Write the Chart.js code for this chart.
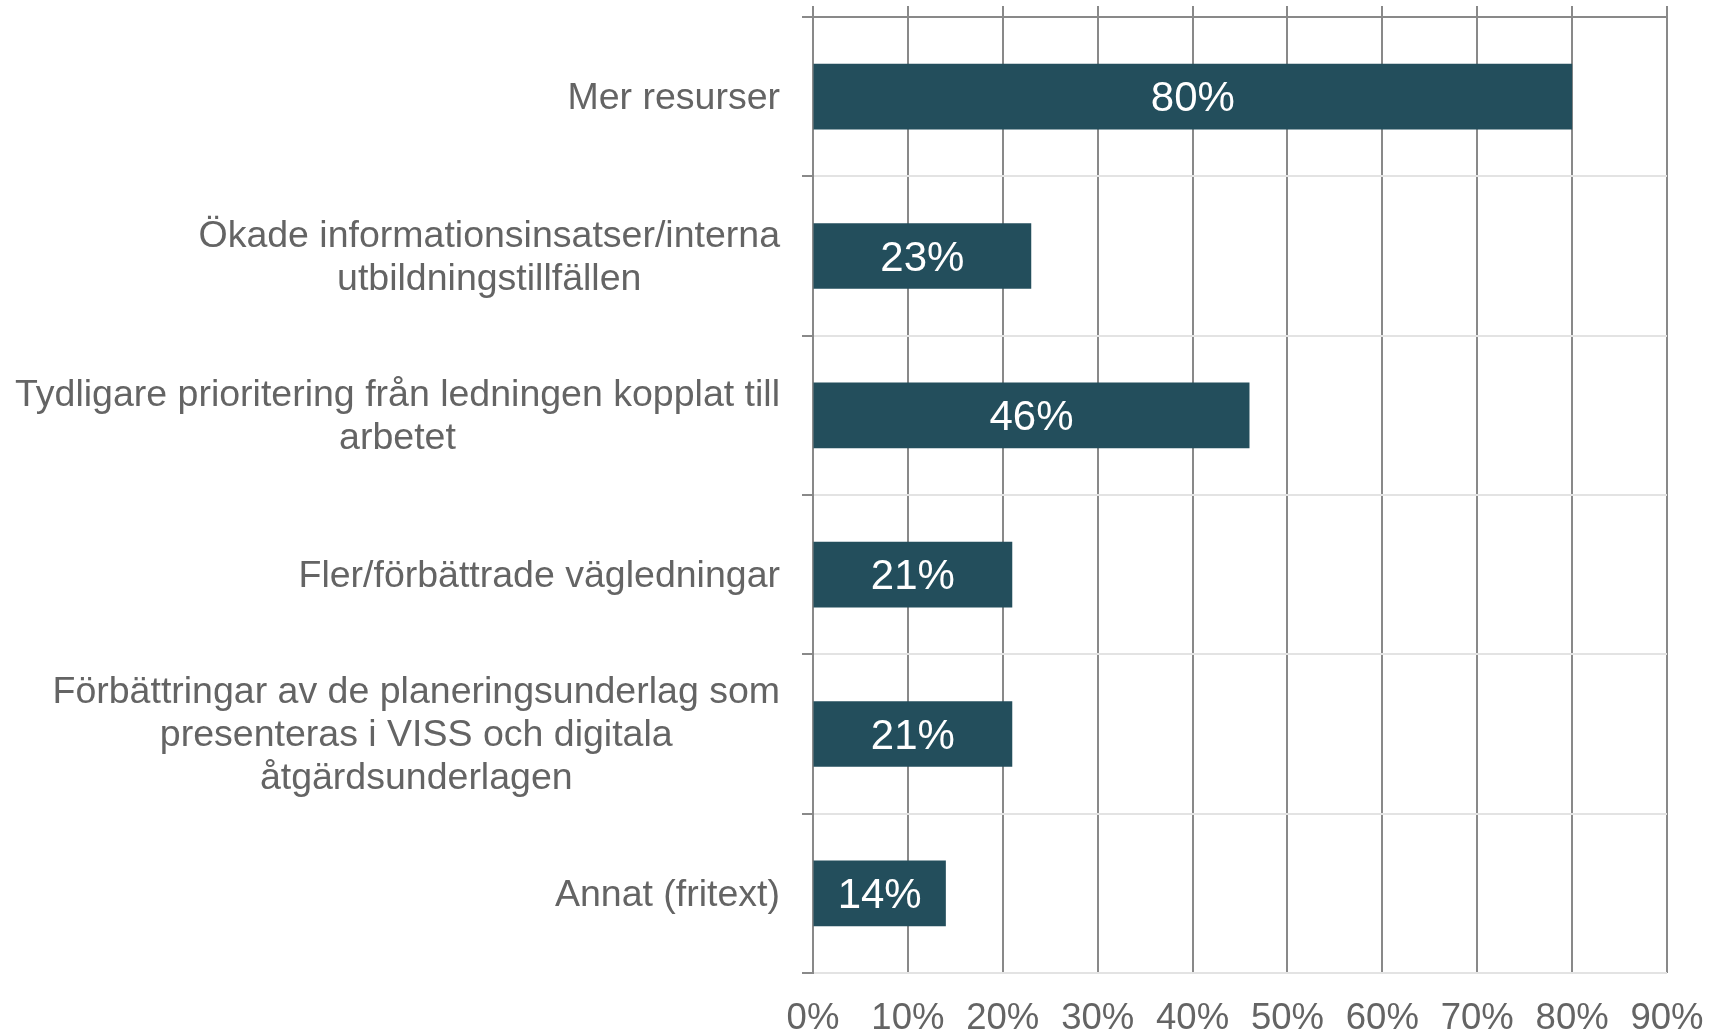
<!DOCTYPE html>
<html>
<head>
<meta charset="utf-8">
<script src="https://cdn.jsdelivr.net/npm/chart.js@4"></script>
<style>
  html, body { margin: 0; padding: 0; background: #ffffff; }
  #wrap { width: 1709px; height: 1035px; }
</style>
</head>
<body>
<div id="wrap"><canvas id="chart" width="1709" height="1035"></canvas></div>
<script>
const categories = [
  ['Mer resurser'],
  ['Ökade informationsinsatser/interna', 'utbildningstillfällen'],
  ['Tydligare prioritering från ledningen kopplat till', 'arbetet'],
  ['Fler/förbättrade vägledningar'],
  ['Förbättringar av de planeringsunderlag som', 'presenteras i VISS och digitala', 'åtgärdsunderlagen'],
  ['Annat (fritext)']
];
const values = [80, 23, 46, 21, 21, 14];
const tickValues = [0, 10, 20, 30, 40, 50, 60, 70, 80, 90];

const FONT = '"Liberation Sans", Arial, sans-serif';
const TEXT_GREY = '#646464';
const DARK_LINE = '#898989';
const LIGHT_LINE = '#e3e3e3';

// category labels: block right-aligned at the axis, lines centred within the block
const categoryLabels = {
  id: 'categoryLabels',
  afterDraw(chart) {
    const ctx = chart.ctx;
    const yScale = chart.scales.y;
    ctx.save();
    ctx.font = '37.5px ' + FONT;
    ctx.fillStyle = TEXT_GREY;
    ctx.textAlign = 'center';
    ctx.textBaseline = 'middle';
    categories.forEach((lines, i) => {
      const widest = Math.max(...lines.map(l => ctx.measureText(l).width));
      const cx = chart.chartArea.left - 33 - widest / 2;
      const cy = yScale.getPixelForValue(i) + 2;
      lines.forEach((line, j) => {
        ctx.fillText(line, cx, cy + (j - (lines.length - 1) / 2) * 43);
      });
    });
    ctx.restore();
  }
};

// white value labels in the middle of each bar
const barLabels = {
  id: 'barLabels',
  afterDatasetsDraw(chart) {
    const ctx = chart.ctx;
    const meta = chart.getDatasetMeta(0);
    ctx.save();
    ctx.font = '42px ' + FONT;
    ctx.fillStyle = '#ffffff';
    ctx.textAlign = 'center';
    ctx.textBaseline = 'middle';
    meta.data.forEach((bar, i) => {
      ctx.fillText(values[i] + '%', (bar.x + bar.base) / 2, bar.y + 3);
    });
    ctx.restore();
  }
};

new Chart(document.getElementById('chart'), {
  type: 'bar',
  data: {
    labels: categories.map(c => c.join(' ')),
    datasets: [{
      data: values,
      backgroundColor: '#234e5c',
      borderWidth: 0,
      categoryPercentage: 1,
      barPercentage: 0.4125
    }]
  },
  options: {
    indexAxis: 'y',
    responsive: false,
    animation: false,
    layout: { padding: { top: 6, right: 42, bottom: 0, left: 0 } },
    plugins: {
      legend: { display: false },
      tooltip: { enabled: false }
    },
    scales: {
      x: {
        position: 'bottom',
        min: 0,
        max: 90,
        afterBuildTicks(scale) { scale.ticks = tickValues.map(v => ({ value: v })); },
        ticks: {
          callback: v => v + '%',
          color: TEXT_GREY,
          font: { family: FONT, size: 36.5, lineHeight: 1.2 },
          padding: 24,
          maxRotation: 0,
          autoSkip: false
        },
        grid: { drawOnChartArea: false, drawTicks: false },
        border: { display: false },
        afterFit(scale) {
          scale.height = 62;
          scale.paddingLeft = 0;
          scale.paddingRight = 0;
        }
      },
      x2: {
        type: 'linear',
        position: 'top',
        min: 0,
        max: 90,
        afterBuildTicks(scale) { scale.ticks = tickValues.map(v => ({ value: v })); },
        ticks: { display: false },
        grid: { color: DARK_LINE, lineWidth: 2, tickLength: 11 },
        border: { color: DARK_LINE, width: 2 }
      },
      y: {
        offset: true,
        ticks: { display: false },
        grid: {
          offset: true,
          color: LIGHT_LINE,
          lineWidth: 2,
          tickColor: DARK_LINE,
          tickLength: 11
        },
        border: { color: DARK_LINE, width: 2 },
        afterFit(scale) { scale.width = 813; }
      }
    }
  },
  plugins: [categoryLabels, barLabels]
});
</script>
</body>
</html>
